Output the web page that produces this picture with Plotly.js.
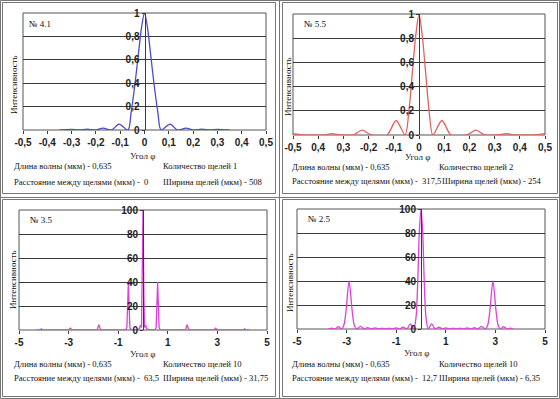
<!DOCTYPE html>
<html><head><meta charset="utf-8">
<script src="https://cdn.plot.ly/plotly-3.0.1.min.js"></script>
<style>html,body{margin:0;padding:0;background:#fff}#chart{width:560px;height:399px}</style>
</head><body><div id="chart"></div>
<script>
// ---- data ----
// Panel № 4.1 (one slit)
const p1_angle = [-0.35,-0.34,-0.30,-0.27,-0.235,-0.204,-0.17,-0.136,-0.105,-0.068,-0.055,-0.04,-0.025,-0.012,0,0.012,0.025,0.04,0.055,0.068,0.105,0.136,0.17,0.204,0.235,0.27,0.30,0.34,0.35];
const p1_int   = [0.002,0,0.005,0,0.008,0,0.016,0,0.05,0,0.15,0.38,0.65,0.88,1,0.88,0.65,0.38,0.15,0,0.05,0,0.016,0,0.008,0,0.005,0,0.002];
// Panel № 5.5 (two slits)
const p2_angle = [-0.5,-0.49,-0.46,-0.42,-0.38,-0.345,-0.31,-0.26,-0.226,-0.19,-0.127,-0.091,-0.055,-0.04,-0.027,-0.013,0,0.013,0.027,0.04,0.055,0.091,0.127,0.19,0.226,0.26,0.31,0.345,0.38,0.42,0.46,0.49,0.5];
const p2_int   = [0.008,0.01,0,0,0,0.012,0,0,0.04,0,0,0.12,0,0.2,0.5,0.82,1,0.82,0.5,0.2,0,0.12,0,0,0.04,0,0,0.012,0,0,0,0.01,0.008];
// Panel № 3.5 (ten slits, d = 63,5)
const p3_angle = [-4.3,-4.16,-4.1,-4.04,-3.0,-2.93,-2.86,-1.85,-1.78,-1.71,-0.7,-0.65,-0.62,-0.59,-0.56,-0.53,-0.48,-0.3,-0.15,-0.1,-0.06,-0.035,0,0.035,0.06,0.1,0.15,0.3,0.48,0.53,0.56,0.59,0.62,0.65,0.7,1.71,1.78,1.85,2.86,2.93,3.0,4.04,4.1,4.16,4.3];
const p3_int   = [0,0,1,0,0,1.5,0,0,4.5,0,0,2,20,40,20,2,0,0,1,4,2,30,100,30,2,4,1,0,0,2,20,40,20,2,0,0,4.5,0,0,1.5,0,0,1,0,0];
// Panel № 2.5 (ten slits, d = 12,7)
const p4_angle = [-3.72,-3.6,-3.47,-3.33,-3.2,-3.1,-3.02,-2.9,-2.78,-2.7,-2.6,-2.44,-2.29,-2.15,-2.0,-1.86,-1.72,-1.58,-1.43,-1.29,-1.15,-1.0,-0.86,-0.72,-0.57,-0.43,-0.29,-0.2,-0.13,-0.07,0,0.07,0.13,0.2,0.29,0.43,0.57,0.72,0.86,1.0,1.15,1.29,1.43,1.58,1.72,1.86,2.0,2.15,2.29,2.44,2.6,2.7,2.78,2.9,3.02,3.1,3.2,3.33,3.47,3.6,3.72];
const p4_int   = [0,0.8,0,2,0,4,16,40,16,4,0,2.2,0,1.2,0,0.9,0,0.8,0,0.8,0,1.0,0,1.6,0,4.3,0,10,40,80,100,80,40,10,0,4.3,0,1.6,0,1.0,0,0.8,0,0.8,0,0.9,0,1.2,0,2.2,0,4,16,40,16,4,0,2,0,0.8,0];

// tick labels
const xSmallVals = [-0.5,-0.4,-0.3,-0.2,-0.1,0,0.1,0.2,0.3,0.4,0.5];
const xSmallText1 = ['-0,5','-0,4','-0,3','-0,2','-0,1','0','0,1','0,2','0,3','0,4','0,5'];
const xSmallText2 = ['-0,5','0,4','0,3','-0,2','-0,1','0','0,1','0,2','0,3','0,4','0,5'];
const xBigVals = [-5,-3,-1,1,3,5];
const xBigText = ['-5','-3','-1','1','3','5'];
const yUnitVals = [0,0.2,0.4,0.6,0.8,1];
const yUnitText = ['0','0,2','0,4','0,6','0,8','1'];
const yPctVals = [0,20,40,60,80,100];
const yPctText = ['0','20','40','60','80','100'];

// panel texts
const panelNames = ['№ 4.1','№ 5.5','№ 3.5','№ 2.5'];
const rowWave = 'Длина волны (мкм) - 0,635';
const rowCount = ['Количество щелей 1','Количество щелей 2','Количество щелей 10','Количество щелей 10'];
const rowDist = ['Расстояние между щелями (мкм) - &nbsp;0','Расстояние между щелями (мкм) - &nbsp;317,5','Расстояние между щелями (мкм) - &nbsp;63,5','Расстояние между щелями (мкм) - &nbsp;12,7'];
const rowWidth = ['Ширина щелей (мкм) - 508','Ширина щелей (мкм) - 254','Ширина щелей (мкм) - 31,75','Ширина щелей (мкм) - 6,35'];
const colors = ['#4b4bcc','#e2625c','#dd40dd','#dd40dd'];

// ---- layout helpers ----
const W = 560, H = 399;
const px = v => v / W, py = v => 1 - v / H;
const dark = '#3a3a3a';
const tickFont = {family:'Liberation Sans, Arial, sans-serif', size:10, color:'#222', weight:'bold'};
const serif = {family:'Liberation Serif, Times New Roman, serif', size:8.6, color:'#111'};
const serifTitle = {family:'Liberation Serif, Times New Roman, serif', size:9, color:'#111'};

// plot boxes in pixels: [left, right, top, bottom]
const boxes = [[23,266,13,130],[293,545,14,135],[19,267,210,330],[297,545,209,329]];
const xr = [[-0.5,0.5],[-0.5,0.5],[-5,5],[-5,5]];
const yr = [[0,1],[0,1],[0,100],[0,100]];
const xtv = [xSmallVals,xSmallVals,xBigVals,xBigVals];
const xtt = [xSmallText1,xSmallText2,xBigText,xBigText];
const ytv = [yUnitVals,yUnitVals,yPctVals,yPctVals];
const ytt = [yUnitText,yUnitText,yPctText,yPctText];
const xs = [p1_angle,p2_angle,p3_angle,p4_angle];
const ys = [p1_int,p2_int,p3_int,p4_int];
const shapesMode = ['spline','spline','linear','spline'];

const layout = {
  width:W, height:H, margin:{l:0,r:0,t:0,b:0},
  paper_bgcolor:'#fff', plot_bgcolor:'#fff', showlegend:false,
  separators:', ', shapes:[], annotations:[]
};
const traces = [];
for (let i=0;i<4;i++){
  const s = i===0 ? '' : String(i+1);
  const [l,r,t,b] = boxes[i];
  const xd = [px(l), px(r)], yd = [py(b), py(t)];
  layout['xaxis'+s] = {
    domain:xd, range:xr[i], anchor:'y'+s, showgrid:false, zeroline:false, showline:false,
    ticks:'outside', ticklen:3, tickcolor:dark, tickmode:'array', tickvals:xtv[i], ticktext:xtt[i],
    tickfont:tickFont, fixedrange:true
  };
  layout['yaxis'+s] = {
    domain:yd, range:yr[i], anchor:'free', position:(xd[0]+xd[1])/2,
    showgrid:true, gridcolor:dark, gridwidth:1, zeroline:false,
    showline:true, linecolor:dark, linewidth:1,
    ticks:'outside', ticklen:3, tickcolor:dark, tickmode:'array', tickvals:ytv[i], ticktext:ytt[i],
    tickfont:tickFont, fixedrange:true
  };
  traces.push({
    type:'scatter', mode:'lines', x:xs[i], y:ys[i], xaxis:'x'+s, yaxis:'y'+s,
    line:{color:colors[i], width:1.3, shape:shapesMode[i], smoothing:0.8}, hoverinfo:'skip'
  });
  // plot-area frame
  layout.shapes.push({type:'rect', xref:'x'+s+' domain', yref:'y'+s+' domain', x0:0, x1:1, y0:0, y1:1,
    line:{color:'#555', width:1}, layer:'below'});
}

// cell frames
const cellLine = {color:'#777', width:1};
[[2.5,275.5,2.5,193.5],[282.5,557.5,2.5,193.5],[2.5,275.5,199.5,396.5],[282.5,557.5,199.5,396.5]].forEach(c=>{
  layout.shapes.push({type:'rect', xref:'paper', yref:'paper', x0:px(c[0]), x1:px(c[1]), y0:py(c[3]), y1:py(c[2]), line:cellLine});
});
layout.shapes.push({type:'line', xref:'paper', yref:'paper', x0:px(279.5), x1:px(279.5), y0:0, y1:1, line:cellLine});
layout.shapes.push({type:'line', xref:'paper', yref:'paper', x0:0, x1:1, y0:py(197.5), y1:py(197.5), line:cellLine});
layout.shapes.push({type:'rect', xref:'paper', yref:'paper', x0:px(0.5), x1:px(559.5), y0:py(398.5), y1:py(0.5), line:cellLine});

// annotations
function ann(text, x, y, opts){
  layout.annotations.push(Object.assign({text:text, xref:'paper', yref:'paper', x:px(x), y:py(y),
    xanchor:'left', yanchor:'middle', showarrow:false, font:serif}, opts||{}));
}
const nameP   = [[27,24],[302,24],[28,220],[306,219]];
const ytitleP = [[14,85],[288,87],[13,280],[290,283]];
const xtitleP = [[142,156],[417,157],[142,354],[416,353]];
const rowL = [12,290,12,290];
const rowR1 = [161,437,161,437];
const rowR2 = [161,440,161,437];
const row1Y = [166,167,364,364];
const row2Y = [182,181,378,378];
for (let i=0;i<4;i++){
  ann(panelNames[i], nameP[i][0], nameP[i][1], {font:serifTitle});
  ann('Интенсивность', ytitleP[i][0], ytitleP[i][1], {textangle:-90, xanchor:'center', font:serifTitle});
  ann('Угол φ', xtitleP[i][0], xtitleP[i][1], {xanchor:'center', font:serifTitle});
  ann(rowWave, rowL[i], row1Y[i]);
  ann(rowCount[i], rowR1[i], row1Y[i]);
  ann(rowDist[i], rowL[i], row2Y[i]);
  ann(rowWidth[i], rowR2[i], row2Y[i]);
}

Plotly.newPlot('chart', traces, layout, {staticPlot:true, displayModeBar:false});
</script></body></html>
